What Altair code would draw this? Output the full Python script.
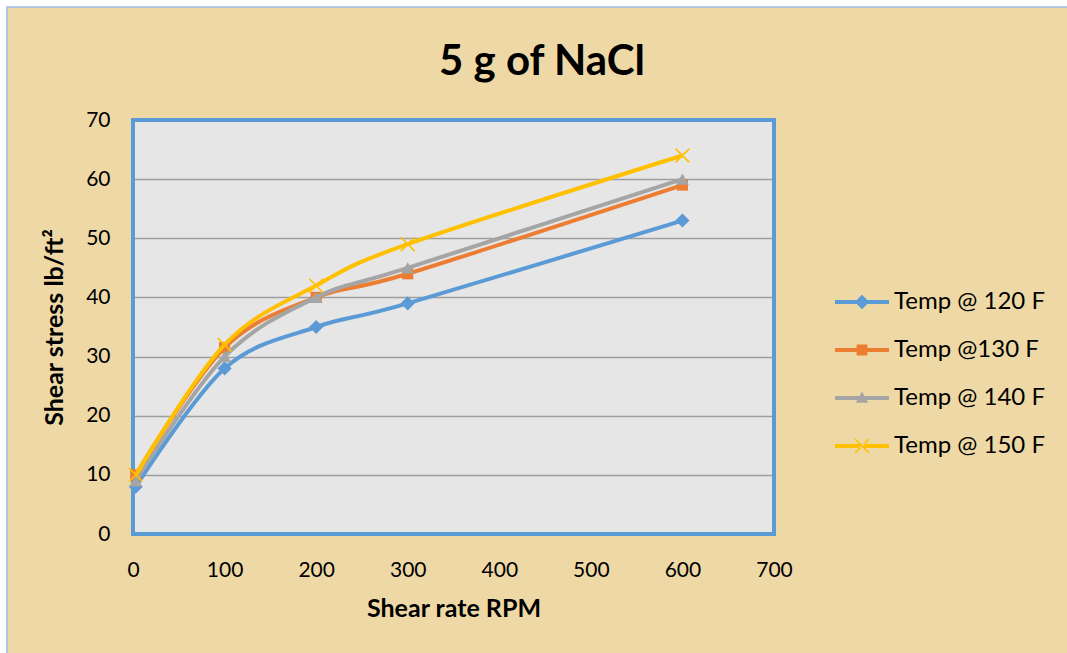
import altair as alt
import pandas as pd

# Fann viscometer readings for 5 g of NaCl at four temperatures
rpm = [3, 100, 200, 300, 600]
series_names = ["Temp @ 120 F", "Temp @130 F", "Temp @ 140 F", "Temp @ 150 F"]
stress_120 = [8, 28, 35, 39, 53]
stress_130 = [10, 31.5, 40, 44, 59]
stress_140 = [9, 30, 40, 45, 60]
stress_150 = [10, 32, 42, 49, 64]
series_values = [stress_120, stress_130, stress_140, stress_150]

colors = ["#5b9bd5", "#ed7d31", "#a5a5a5", "#ffc000"]
marker_shapes = ["diamond", "square", "triangle-up", "M-1,-1L1,1M-1,1L1,-1"]
marker_sizes = [200, 125, 170, 190]

FONT = "Lato"
PARCHMENT = "#eed9a6"
TITLE = "5 g of NaCl"

rows = []
for name, vals in zip(series_names, series_values):
    for r, v in zip(rpm, vals):
        rows.append({"rpm": r, "stress": v, "series": name})
df = pd.DataFrame(rows)

W, H = 641, 414
PAD = {"left": 133, "top": 120, "right": 1067 - 133 - W, "bottom": 653 - 120 - H}

color_scale = alt.Scale(domain=series_names, range=colors)

# Legend keys: a short line segment with the series marker on top (unit path space)
line_part = "M-1,-0.07L1,-0.07L1,0.07L-1,0.07Z"
key_paths = [
    line_part + "M0,-0.27L0.27,0L0,0.27L-0.27,0Z",
    line_part + "M-0.2,-0.2L0.2,-0.2L0.2,0.2L-0.2,0.2Z",
    line_part + "M0,-0.24L0.23,0.18L-0.23,0.18Z",
    line_part
    + "M-0.239,-0.281L0.281,0.239L0.239,0.281L-0.281,-0.239Z"
    + "M-0.239,0.281L0.281,-0.239L0.239,-0.281L-0.281,0.239Z",
]
shape_expr = " : ".join(
    f"datum.value === '{n}' ? '{p}'" for n, p in zip(series_names[:-1], key_paths[:-1])
) + f" : '{key_paths[-1]}'"

legend = alt.Legend(
    title=None,
    orient="none",
    legendX=702,
    legendY=155,
    padding=0,
    symbolSize=2916,
    symbolType={"expr": shape_expr},
    symbolFillColor={"expr": "scale('color', datum.value)"},
    symbolStrokeWidth=0,
    symbolOpacity=1,
    labelFont=FONT,
    labelFontSize=24,
    labelColor="#000000",
    labelOffset=5,
    rowPadding=9,
)

x_enc = alt.X(
    "rpm:Q",
    scale=alt.Scale(domain=[0, 700], nice=False),
    axis=alt.Axis(
        values=list(range(0, 701, 100)),
        grid=False,
        ticks=False,
        domain=False,
        labelFlush=False,
        labelFont=FONT,
        labelFontSize=21,
        labelColor="#000000",
        labelPadding=25,
        title="Shear rate RPM",
        titleFont=FONT,
        titleFontSize=25,
        titleFontWeight="bold",
        titleColor="#000000",
        titlePadding=16,
    ),
)
y_enc = alt.Y(
    "stress:Q",
    scale=alt.Scale(domain=[0, 70], nice=False),
    axis=alt.Axis(
        values=list(range(0, 71, 10)),
        grid=True,
        gridColor="#9e9e9e",
        gridWidth=1.5,
        ticks=False,
        domain=False,
        labelFont=FONT,
        labelFontSize=21,
        labelColor="#000000",
        labelPadding=23,
        title="Shear stress lb/ft²",
        titleFont=FONT,
        titleFontSize=25,
        titleFontWeight="bold",
        titleColor="#000000",
        titlePadding=18,
    ),
)

one = pd.DataFrame({"k": [0]})
far_r = W + PAD["right"] + 20
far_b = H + PAD["bottom"] + 20

# White margin and thin blue outline round the parchment panel
margin = alt.Chart(one).mark_rect(fill=None, stroke="#ffffff", strokeWidth=14).encode(
    x=alt.value(-PAD["left"]), x2=alt.value(far_r),
    y=alt.value(-PAD["top"]), y2=alt.value(far_b),
)
outline = alt.Chart(one).mark_rect(fill=None, stroke="#9cbde6", strokeWidth=1.5).encode(
    x=alt.value(-PAD["left"] + 7), x2=alt.value(far_r),
    y=alt.value(-PAD["top"] + 7), y2=alt.value(far_b),
)

# Chart title
title = alt.Chart(one).mark_text(
    text=TITLE, font=FONT, fontSize=42, fontWeight="bold", color="#000000",
    align="center", baseline="alphabetic",
).encode(x=alt.value(542 - PAD["left"]), y=alt.value(75 - PAD["top"]))

# Plot-area border
border = alt.Chart(one).mark_rect(fill=None, stroke="#5b9bd5", strokeWidth=4).encode(
    x=alt.value(0), x2=alt.value(W), y=alt.value(0), y2=alt.value(H)
)

layers = [margin, outline, title, border]
for i, name in enumerate(series_names):
    base = alt.Chart(df).transform_filter(alt.datum.series == name)
    line = base.mark_line(
        interpolate="cardinal", strokeWidth=4, color=colors[i]
    ).encode(x=x_enc, y=y_enc)
    is_x = marker_shapes[i].startswith("M")
    pts = base.mark_point(
        shape=marker_shapes[i],
        size=marker_sizes[i],
        filled=not is_x,
        strokeWidth=1.6 if is_x else 0,
        opacity=1,
    ).encode(
        x="rpm:Q",
        y="stress:Q",
        color=alt.Color("series:N", scale=color_scale, legend=legend),
    )
    layers += [line, pts]

chart = alt.layer(*layers).properties(
    width=W,
    height=H,
    padding=PAD,
    autosize=alt.AutoSizeParams(type="none"),
    background=PARCHMENT,
).configure_view(fill="#e6e6e6", stroke=None)

chart.save("out.html", embed_options={"renderer": "svg", "actions": False})
